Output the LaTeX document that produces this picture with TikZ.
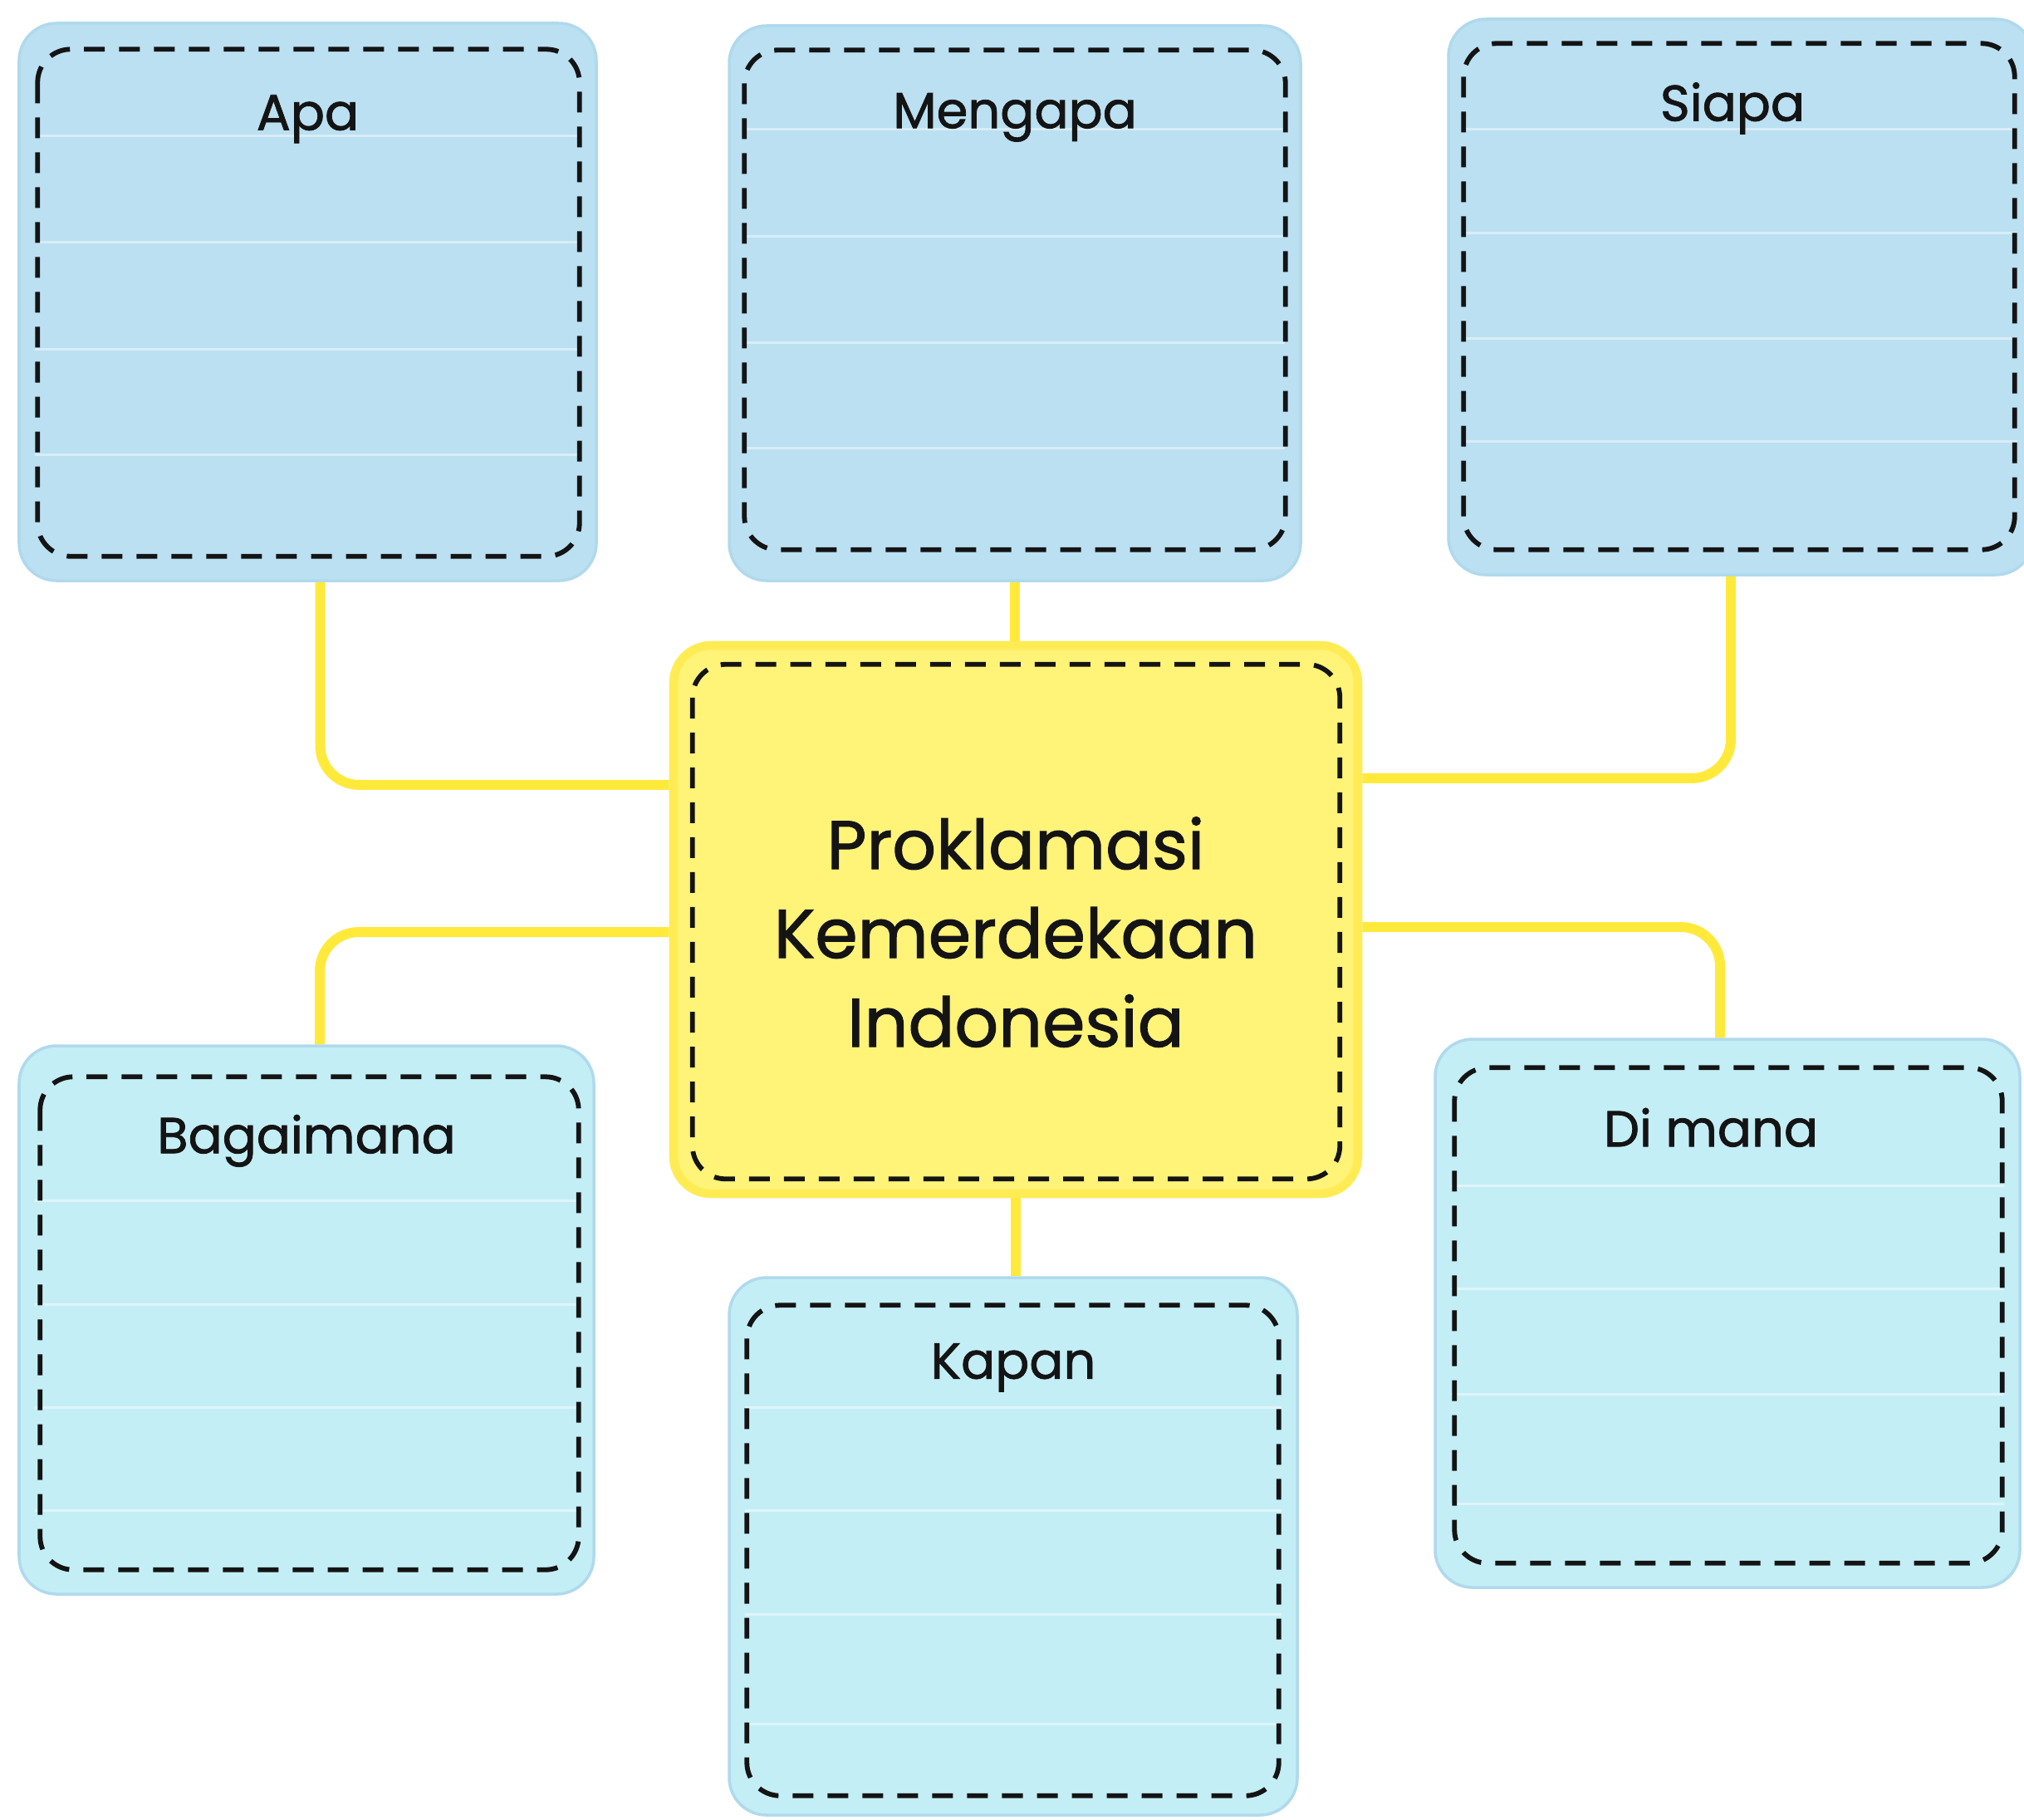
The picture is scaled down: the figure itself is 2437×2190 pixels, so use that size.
\documentclass[tikz,border=0pt]{standalone}
\usepackage{fontspec}
\setmainfont{Poppins}
\newfontfamily\lblfont{Poppins}[FakeBold=1.3]
\usetikzlibrary{fit,backgrounds}
\definecolor{boxblue}{RGB}{186,224,242}
\definecolor{boxcyan}{RGB}{196,238,246}
\definecolor{boxedge}{RGB}{176,217,236}
\definecolor{ctryellow}{RGB}{255,243,120}
\definecolor{ctredge}{RGB}{255,236,85}
\definecolor{connyellow}{RGB}{255,234,60}
\tikzset{
  outerbox/.style={inner sep=0pt, rounded corners=0.45cm, fill=#1, draw=boxedge, line width=1pt},
  ctrbox/.style={inner sep=0pt, rounded corners=0.45cm, fill=ctryellow, draw=ctredge, line width=3pt},
  dashrect/.style={draw=black!92, line width=0.058cm, dash pattern=on 0.25cm off 0.17cm, rounded corners=0.4cm},
  rowline/.style={draw=white, opacity=0.45, line width=0.03cm},
  lbl/.style={inner sep=1pt, font=\lblfont\fontsize{17.3}{21}\selectfont, text=black!92},
  ctrtext/.style={inner sep=1pt, align=center, font=\lblfont\fontsize{23.5}{30.4}\selectfont, text=black!92},
  conn/.style={draw=connyellow, line width=0.12cm, rounded corners=0.47cm}
}
\begin{document}
\begin{tikzpicture}[x=0.01cm,y=-0.01cm]
\useasboundingbox (0,0) rectangle (2437,2190);

% boxes
\node[outerbox=boxblue, fit={(23,28) (718,699)}] (apa) {};
\node[outerbox=boxblue, fit={(878,31) (1566,699)}] (meng) {};
\node[outerbox=boxblue, fit={(1744,23) (2448,692)}] (siapa) {};
\node[outerbox=boxcyan, fit={(23,1259) (715,1919)}] (bag) {};
\node[outerbox=boxcyan, fit={(878,1538) (1562,2185)}] (kapan) {};
\node[outerbox=boxcyan, fit={(1728,1251) (2432,1911)}] (dimana) {};
\node[ctrbox, fit={(811,777) (1635,1437)}] (ctr) {};

% faint row lines
\foreach \y in {163,291,420,547} \draw[rowline] ([xshift=6pt]apa.west |- 0,\y) -- ([xshift=-6pt]apa.east |- 0,\y);
\foreach \y in {155,284,412,539} \draw[rowline] ([xshift=6pt]meng.west |- 0,\y) -- ([xshift=-6pt]meng.east |- 0,\y);
\foreach \y in {155,280,407,531} \draw[rowline] ([xshift=6pt]siapa.west |- 0,\y) -- ([xshift=-6pt]siapa.east |- 0,\y);
\foreach \y in {1445,1570,1694,1818} \draw[rowline] ([xshift=6pt]bag.west |- 0,\y) -- ([xshift=-6pt]bag.east |- 0,\y);
\foreach \y in {1694,1818,1943,2075} \draw[rowline] ([xshift=6pt]kapan.west |- 0,\y) -- ([xshift=-6pt]kapan.east |- 0,\y);
\foreach \y in {1427,1551,1678,1810} \draw[rowline] ([xshift=6pt]dimana.west |- 0,\y) -- ([xshift=-6pt]dimana.east |- 0,\y);

% dashed inner borders
\draw[dashrect] ([xshift=.24cm,yshift=-.33cm]apa.north west) rectangle ([xshift=-.22cm,yshift=.31cm]apa.south east);
\draw[dashrect] ([xshift=.20cm,yshift=-.31cm]meng.north west) rectangle ([xshift=-.20cm,yshift=.39cm]meng.south east);
\draw[dashrect] ([xshift=.20cm,yshift=-.31cm]siapa.north west) rectangle ([xshift=-.24cm,yshift=.32cm]siapa.south east);
\draw[dashrect] ([xshift=.27cm,yshift=-.39cm]bag.north west) rectangle ([xshift=-.20cm,yshift=.31cm]bag.south east);
\draw[dashrect] ([xshift=.23cm,yshift=-.35cm]kapan.north west) rectangle ([xshift=-.24cm,yshift=.25cm]kapan.south east);
\draw[dashrect] ([xshift=.25cm,yshift=-.36cm]dimana.north west) rectangle ([xshift=-.23cm,yshift=.31cm]dimana.south east);
\draw[dashrect] ([xshift=.28cm,yshift=-.28cm]ctr.north west) rectangle ([xshift=-.27cm,yshift=.23cm]ctr.south east);

% labels
\node[lbl] (apa-l) at ([yshift=-1.17cm]apa.north) {Apa};
\node[lbl] (meng-l) at ([yshift=-1.12cm]meng.north) {Mengapa};
\node[lbl] (siapa-l) at ([xshift=-.1cm,yshift=-1.09cm]siapa.north) {Siapa};
\node[lbl] (bag-l) at ([yshift=-1.16cm]bag.north) {Bagaimana};
\node[lbl] (kapan-l) at ([yshift=-1.10cm]kapan.north) {Kapan};
\node[lbl] (dimana-l) at ([xshift=-.2cm,yshift=-1.08cm]dimana.north) {Di mana};
\node[ctrtext] (ctr-t) at ([yshift=-.15cm]ctr.center) {Proklamasi\\Kemerdekaan\\Indonesia};

% connectors
\begin{scope}[on background layer]
\fill[white] (0,0) rectangle (2437,2190);
\draw[conn] ([xshift=.15cm]apa.south) |- ([yshift=1.62cm]ctr.west);
\draw[conn] (meng.south) -- (meng.south |- ctr.north);
\draw[conn] ([xshift=-.12cm]siapa.south) |- ([yshift=1.70cm]ctr.east);
\draw[conn] ([yshift=-.15cm]ctr.west) -| ([xshift=.16cm]bag.north);
\draw[conn] ([yshift=-.09cm]ctr.east) -| ([xshift=-.09cm]dimana.north);
\draw[conn] (ctr.south) -- (ctr.south |- kapan.north);
\end{scope}
\end{tikzpicture}
\end{document}
